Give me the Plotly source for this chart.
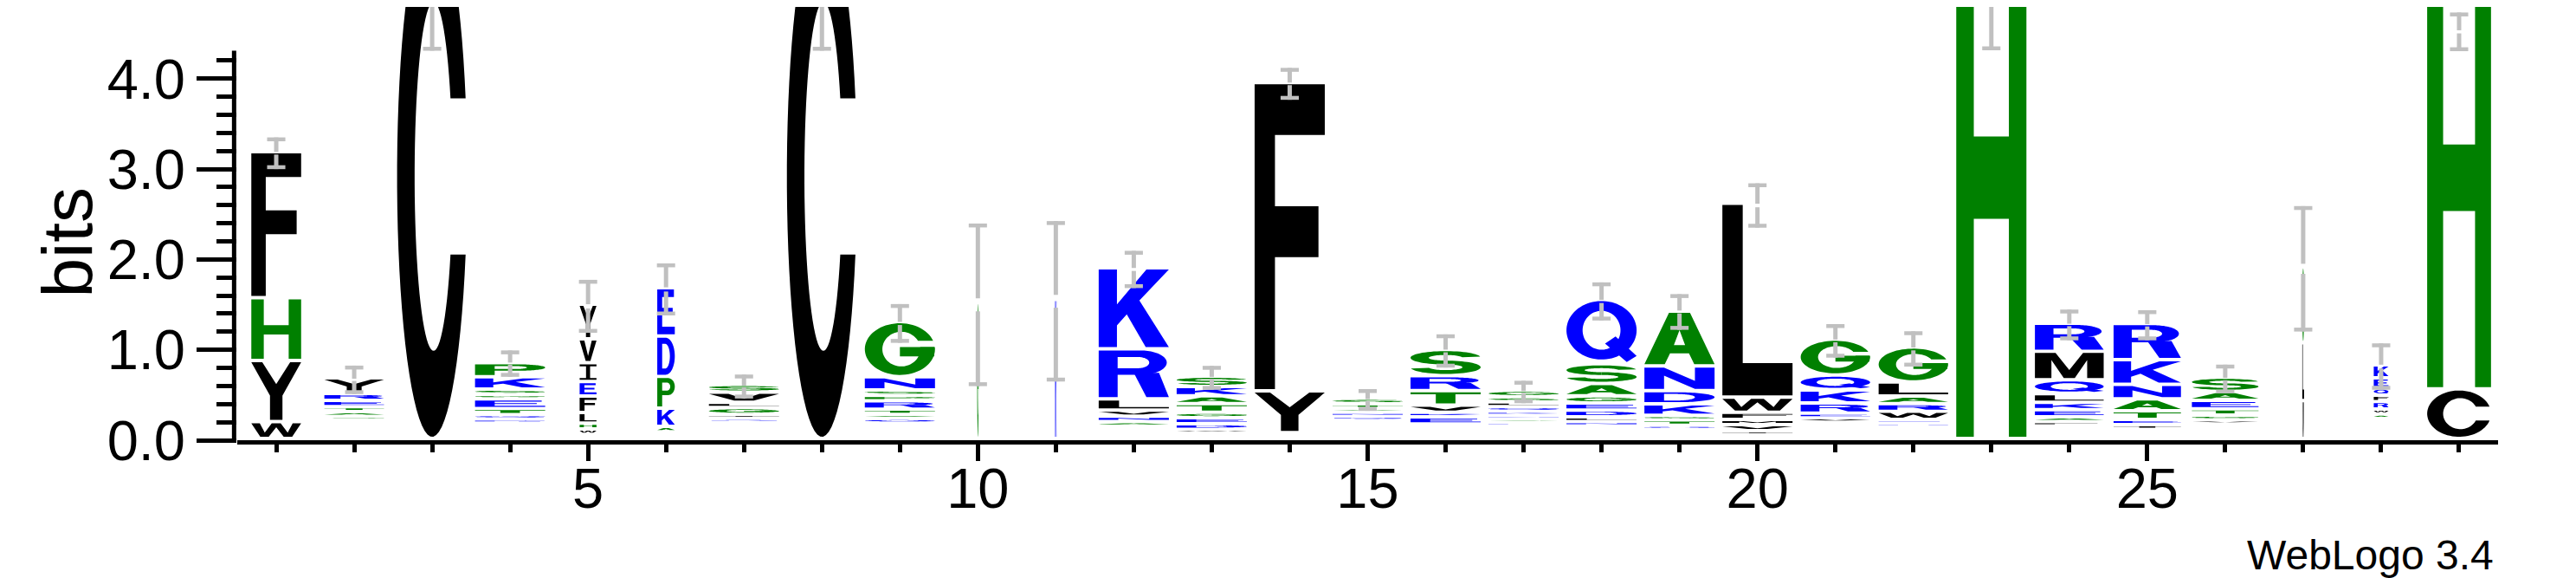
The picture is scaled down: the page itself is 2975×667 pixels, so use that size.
import numpy as np
import plotly.graph_objects as go

positions = list(range(1, 30))
# fraction of full stack width (WebLogo scales width by non-gap fraction)
stack_width = [0.71, 0.85, 1, 1, 0.24, 0.25, 1, 1, 1, 0.02, 0.02, 1, 1, 1, 1,
               1, 1, 1, 1, 1, 0.99, 0.99, 1, 0.98, 0.96, 0.95, 0.025, 0.21, 0.91]
# summed height (bits) of residues too small to be drawn, at the stack bottom
rare_bits = [0, .204, 0, .17, .045, .074, .18, 0, .17, 0, 0, .138, .06, .064, .2,
             .16, .135, .14, .1, .04, .18, .13, 0, .14, .1, .16, 0, .22, 0]
# residues of each stack, bottom to top
stack_residues = ["WYHF", "SATERY", "C", "DQTEGSKP", "WHLFEIVY", "AKPDE", "QIGLVS",
                  "C", "QATRPSNG", "G", "K", "ANVLRK", "WDEGTAKS", "YF", "QNATS",
                  "EKVTRS", "EANKQLSG", "NLDEGASQ", "QTGKDNA", "IVMFWL", "VERKQG",
                  "DEWRALG", "H", "FAEKLQMR", "IETANKR", "VGTEAS", "VLG", "AWRFQEK", "CH"]
# letter heights in bits, same order
stack_bits = [
    [.188, .675, .695, 1.616],
    [.042, .051, .055, .07, .077, .172],
    [5.8],
    [.045, .05, .067, .106, .05, .059, .137, .155],
    [.06, .065, .118, .182, .16, .209, .264, .383],
    [.06, .202, .351, .447, .534],
    [.042, .045, .075, .058, .113, .086],
    [5.8],
    [.052, .045, .058, .092, .06, .06, .147, .61],
    [1.506],
    [1.54],
    [.05, .059, .068, .123, .555, .897],
    [.042, .062, .065, .061, .096, .086, .103, .115],
    [.463, 3.411],
    [.046, .045, .041, .051, .062],
    [.08, .051, .079, .16, .165, .291],
    [.04, .04, .041, .045, .052, .051, .058, .072],
    [.048, .052, .075, .078, .079, .137, .219, .712],
    [.047, .058, .051, .127, .147, .274, .606],
    [.046, .067, .059, .078, .168, 2.144],
    [.049, .051, .113, .144, .165, .398],
    [.04, .042, .089, .085, .083, .157, .387],
    [5.92],
    [.048, .052, .078, .082, .096, .154, .315, .31],
    [.053, .059, .096, .13, .161, .274, .399],
    [.046, .053, .069, .094, .098, .159],
    [.42, .64, .84],
    [.051, .055, .083, .07, .08, .112, .144],
    [.55, 4.79],
]
err_low = [3.0, .511, 4.31, .702, 1.189, 1.381, .462, 4.31, 1.078, .599, .65, 1.684,
           .558, 3.767, .325, .804, .41, 1.325, 1.222, 2.352, .914, .815, 4.315,
           1.106, 1.106, .518, 1.203, .559, 4.305]
err_high = [3.35, .825, 7.29, .993, 1.774, 1.956, .726, 7.29, 1.506, 2.397, 2.424,
            2.095, .822, 4.119, .565, 1.171, .657, 1.746, 1.616, 2.842, 1.284, 1.205,
            7.5, 1.445, 1.438, .836, 2.59, 1.071, 4.732]
x_tick_vals = [5, 10, 15, 20, 25]
y_tick_vals = [0, 1, 2, 3, 4]
y_tick_text = ["0.0", "1.0", "2.0", "3.0", "4.0"]

# ---------------- style ----------------
COLORS = {}
for c in "RKDENQ":
    COLORS[c] = "#0000ff"
for c in "SGHTAP":
    COLORS[c] = "#008000"
for c in "YVMCLFIW":
    COLORS[c] = "#000000"
GAP = 0.038          # vertical gap below each letter (bits)
FULL_W = 0.9         # full stack width in position units
Y_MAX = 4.794
FONT = "Liberation Sans, Arial, Helvetica, sans-serif"


# ---------------- glyph outlines in a unit box ----------------
def arc(cx, cy, rx, ry, a0, a1, n=48):
    t = np.radians(np.linspace(a0, a1, n))
    return list(zip(cx + rx * np.cos(t), cy + ry * np.sin(t)))


def rect(x0, y0, x1, y1):
    return [(x0, y0), (x1, y0), (x1, y1), (x0, y1)]


def ring_open(ylo, yhi, outer, inner, n=70):
    cx, cy, rx, ry = outer
    a_hi = np.degrees(np.arcsin((yhi - cy) / ry))
    a_lo = np.degrees(np.arcsin((ylo - cy) / ry))
    pts = arc(cx, cy, rx, ry, a_hi, 360 + a_lo, n)
    icx, icy, irx, iry = inner
    b_hi = np.degrees(np.arcsin(np.clip((yhi - icy) / iry, -1, 1)))
    b_lo = np.degrees(np.arcsin(np.clip((ylo - icy) / iry, -1, 1)))
    pts += arc(icx, icy, irx, iry, 360 + b_lo, b_hi, n)
    return pts


def band(cx, cy, rx, ry, tx, ty, a0, a1, n=48):
    return arc(cx, cy, rx + tx, ry + ty, a0, a1, n) + arc(cx, cy, rx - tx, ry - ty, a1, a0, n)


OUT = (0.5, 0.5, 0.5, 0.5)
INN = (0.52, 0.5, 0.27, 0.335)
GLYPHS = {
    "A": [[[(0, 0), (0.35, 1), (0.65, 1), (1, 0), (0.71, 0), (0.635, 0.21), (0.365, 0.21), (0.29, 0)],
           [(0.42, 0.37), (0.58, 0.37), (0.5, 0.66)]]],
    "C": [[ring_open(0.35, 0.65, OUT, INN)]],
    "D": [[[(0, 0), (0, 1), (0.48, 1)] + arc(0.48, 0.5, 0.52, 0.5, 90, -90) + [(0.48, 0)],
           [(0.28, 0.165), (0.28, 0.835), (0.45, 0.835)] + arc(0.45, 0.5, 0.27, 0.335, 90, -90)]],
    "E": [[[(0, 0), (0, 1), (0.95, 1), (0.95, 0.83), (0.28, 0.83), (0.28, 0.59), (0.88, 0.59),
            (0.88, 0.43), (0.28, 0.43), (0.28, 0.17), (1, 0.17), (1, 0)]]],
    "F": [[[(0, 0), (0, 1), (1, 1), (1, 0.834), (0.29, 0.834), (0.29, 0.6), (0.91, 0.6),
            (0.91, 0.433), (0.29, 0.433), (0.29, 0)]]],
    "G": [[ring_open(0.54, 0.66, OUT, INN)], [rect(0.5, 0.36, 0.99, 0.54)]],
    "H": [[[(0, 0), (0, 1), (0.25, 1), (0.25, 0.565), (0.75, 0.565), (0.75, 1), (1, 1), (1, 0),
            (0.75, 0), (0.75, 0.41), (0.25, 0.41), (0.25, 0)]]],
    "I": [[[(0, 0), (1, 0), (1, 0.12), (0.62, 0.12), (0.62, 0.88), (1, 0.88), (1, 1), (0, 1),
            (0, 0.88), (0.38, 0.88), (0.38, 0.12), (0, 0.12)]]],
    "K": [[[(0, 0), (0, 1), (0.26, 1), (0.26, 0.55), (0.68, 1), (1, 1), (0.58, 0.6), (1, 0),
            (0.67, 0), (0.4, 0.42), (0.26, 0.28), (0.26, 0)]]],
    "L": [[[(0, 0), (0, 1), (0.29, 1), (0.29, 0.17), (1, 0.17), (1, 0)]]],
    "M": [[[(0, 0), (0, 1), (0.3, 1), (0.5, 0.32), (0.7, 1), (1, 1), (1, 0), (0.76, 0),
            (0.76, 0.72), (0.58, 0), (0.42, 0), (0.24, 0.72), (0.24, 0)]]],
    "N": [[[(0, 0), (0, 1), (0.28, 1), (0.72, 0.38), (0.72, 1), (1, 1), (1, 0), (0.72, 0),
            (0.28, 0.62), (0.28, 0)]]],
    "P": [[[(0, 0), (0, 1), (0.62, 1)] + arc(0.62, 0.7, 0.38, 0.3, 90, -90) + [(0.28, 0.4), (0.28, 0)],
           [(0.28, 0.56), (0.28, 0.84), (0.56, 0.84)] + arc(0.56, 0.7, 0.18, 0.14, 90, -90)]],
    "Q": [[arc(0.5, 0.52, 0.5, 0.48, 0, 360, 80), arc(0.5, 0.52, 0.27, 0.32, 0, 360, 80)],
          [[(0.55, 0.3), (0.7, 0.42), (1.0, 0.1), (0.86, 0.0)]]],
    "R": [[[(0, 0), (0, 1), (0.6, 1)] + arc(0.6, 0.74, 0.37, 0.26, 90, -90) + [(0.27, 0.48), (0.27, 0)],
           [(0.27, 0.62), (0.27, 0.86), (0.56, 0.86)] + arc(0.56, 0.74, 0.16, 0.12, 90, -90)],
          [[(0.5, 0.52), (0.86, 0.52), (1.0, 0.0), (0.68, 0.0)]]],
    "S": [[band(0.5, 0.7075, 0.37, 0.2075, 0.13, 0.085, 10, 270)],
          [band(0.5, 0.2925, 0.37, 0.2075, 0.13, 0.085, 90, -170)]],
    "T": [[[(0, 1), (1, 1), (1, 0.83), (0.64, 0.83), (0.64, 0), (0.36, 0), (0.36, 0.83), (0, 0.83)]]],
    "V": [[[(0, 1), (0.28, 1), (0.5, 0.25), (0.72, 1), (1, 1), (0.64, 0), (0.36, 0)]]],
    "W": [[[(0, 1), (0.17, 1), (0.27, 0.3), (0.41, 1), (0.59, 1), (0.73, 0.3), (0.83, 1), (1, 1),
            (0.82, 0), (0.65, 0), (0.5, 0.7), (0.35, 0), (0.18, 0)]]],
    "Y": [[[(0, 1), (0.22, 1), (0.5, 0.62), (0.78, 1), (1, 1), (0.625, 0.42), (0.625, 0),
            (0.375, 0), (0.375, 0.42)]]],
}

shapes = []
# letters
for pos, wfrac, rare, res, hts in zip(positions, stack_width, rare_bits, stack_residues, stack_bits):
    w = FULL_W * wfrac
    ybase = rare
    for ch, h in zip(res, hts):
        y0 = ybase + GAP
        y1 = ybase + h
        if y1 - y0 > 0.002:
            for part in GLYPHS[ch]:
                path = ""
                for ring in part:
                    pts = [(pos + (u - 0.5) * w, y0 + v * (y1 - y0)) for u, v in ring]
                    path += "M" + "L".join(f"{px:.4f},{py:.4f}" for px, py in pts) + "Z"
                shapes.append(dict(type="path", path=path, xref="x", yref="y",
                                   fillcolor=COLORS[ch], line=dict(width=0),
                                   layer="above", fillrule="evenodd"))
        ybase += h

# error bars
EB = "#c0c0c0"
for pos, lo, hi in zip(positions, err_low, err_high):
    c = (lo + hi) / 2
    hg = 0.04 * (hi - lo)
    for a, b in [(hi, c + hg), (c - hg, lo)]:
        shapes.append(dict(type="line", xref="x", yref="y", x0=pos, x1=pos, y0=a, y1=b,
                           line=dict(color=EB, width=5), layer="above"))
    for yy in (hi - 0.021, lo + 0.021):
        shapes.append(dict(type="line", xref="x", yref="y", x0=pos - 0.117, x1=pos + 0.117,
                           y0=yy, y1=yy, line=dict(color=EB, width=4.5), layer="above"))

# y axis line (only spans 0 .. log2(20))
shapes.append(dict(type="line", xref="paper", yref="paper", x0=-0.0014, x1=-0.0014,
                   y0=-0.0054, y1=4.31 / Y_MAX, line=dict(color="black", width=5)))

fig = go.Figure()
fig.add_trace(go.Scatter(x=[0.5, 29.5], y=[0, 0], mode="markers",
                         marker=dict(opacity=0), hoverinfo="skip", showlegend=False))

fig.update_layout(
    width=2975, height=667,
    margin=dict(l=266, r=98, t=0, b=167),
    paper_bgcolor="white", plot_bgcolor="white",
    shapes=shapes,
    font=dict(family=FONT, color="black"),
    xaxis=dict(range=[0.5, 29.5], showgrid=False, zeroline=False,
               showline=True, linecolor="black", linewidth=5,
               ticks="outside", tickmode="array", tickvals=x_tick_vals,
               ticklen=19, tickwidth=4.5, tickcolor="black", ticklabelstandoff=-24,
               tickfont=dict(size=65, family=FONT, color="black"),
               minor=dict(tickmode="array",
                          tickvals=[p for p in positions if p % 5 != 0],
                          ticks="outside", ticklen=9, tickwidth=4.5, tickcolor="black")),
    yaxis=dict(range=[0, Y_MAX], showgrid=False, zeroline=False, showline=False,
               ticks="outside", tickmode="array", tickvals=y_tick_vals, ticktext=y_tick_text,
               ticklen=46, tickwidth=4.5, tickcolor="black",
               tickfont=dict(size=65, family=FONT, color="black"),
               minor=dict(tickmode="array",
                          tickvals=[round(0.2 * k, 1) for k in range(1, 22) if k % 5 != 0],
                          ticks="outside", ticklen=23, tickwidth=4.5, tickcolor="black")),
    annotations=[
        dict(text="bits", xref="paper", yref="paper", x=(69 - 266) / 2611, y=(500 - 271.5) / 500,
             textangle=-90, showarrow=False, xanchor="center", yanchor="middle",
             font=dict(size=82, family=FONT, color="black")),
        dict(text="WebLogo 3.4", xref="paper", yref="paper", x=(2874 - 266) / 2611,
             y=(500 - 632) / 500, showarrow=False, xanchor="right", yanchor="middle",
             font=dict(size=48, family=FONT, color="black")),
    ],
)

fig.write_html("out.html")
